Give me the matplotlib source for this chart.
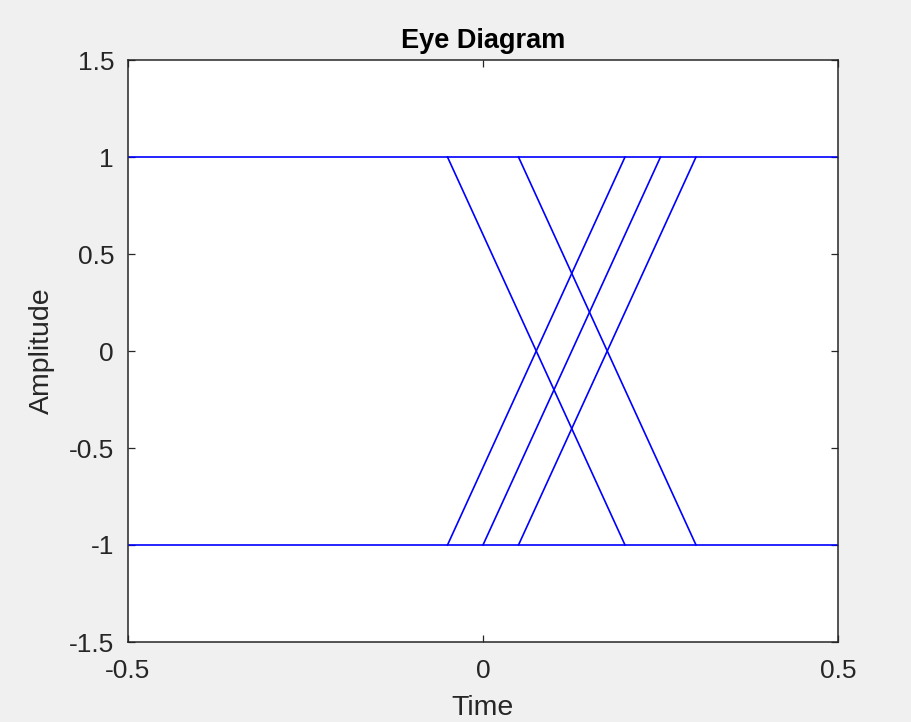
import matplotlib
matplotlib.use('Agg')
import matplotlib.pyplot as plt

# eye diagram traces (time, amplitude)
high_t = [-0.5, 0.5]
high_y = [1, 1]
low_t = [-0.5, 0.5]
low_y = [-1, -1]
fall_starts = [-0.05, 0.05]
fall_ends = [0.2, 0.3]
rise_starts = [-0.05, 0.0, 0.05]
rise_ends = [0.2, 0.25, 0.3]

xticks = [-0.5, 0, 0.5]
xticklabels = ['-0.5', '0', '0.5']
yticks = [-1.5, -1, -0.5, 0, 0.5, 1, 1.5]
yticklabels = ['-1.5', '-1', '-0.5', '0', '0.5', '1', '1.5']

plt.rcParams['font.family'] = ['Liberation Sans', 'DejaVu Sans']

fig = plt.figure(figsize=(9.12, 7.22), dpi=100, facecolor='#f0f0f0')
ax = fig.add_axes([128/912, 80/722, 710/912, 582/722])
ax.set_facecolor('white')

lc = '#0000ff'
lw = 1.2
ax.plot(high_t, high_y, color=lc, linewidth=lw)
ax.plot(low_t, low_y, color=lc, linewidth=lw)
for s, e in zip(fall_starts, fall_ends):
    ax.plot([s, e], [1, -1], color=lc, linewidth=lw)
for s, e in zip(rise_starts, rise_ends):
    ax.plot([s, e], [-1, 1], color=lc, linewidth=lw)

ax.set_xlim(-0.5, 0.5)
ax.set_ylim(-1.5, 1.5)
ax.set_xticks(xticks)
ax.set_xticklabels(xticklabels)
ax.set_yticks(yticks)
ax.set_yticklabels(yticklabels)
ax.tick_params(direction='in', length=5, width=0.9, top=True, right=True,
               labelsize=19, colors='#262626')
ax.tick_params(axis='x', pad=12)
ax.tick_params(axis='y', pad=10)
for sp in ax.spines.values():
    sp.set_color('#262626')
    sp.set_linewidth(1.1)

ax.set_title('Eye Diagram', fontsize=19.5, fontweight='bold', color='black', pad=9)
ax.set_xlabel('Time', fontsize=20.5, color='#262626')
ax.set_ylabel('Amplitude', fontsize=20.5, color='#262626')
ax.xaxis.set_label_coords(0.5, -0.091)
ax.yaxis.set_label_coords(-0.103, 0.5)

plt.savefig('out.png', dpi=100, facecolor=fig.get_facecolor())
plt.close()
